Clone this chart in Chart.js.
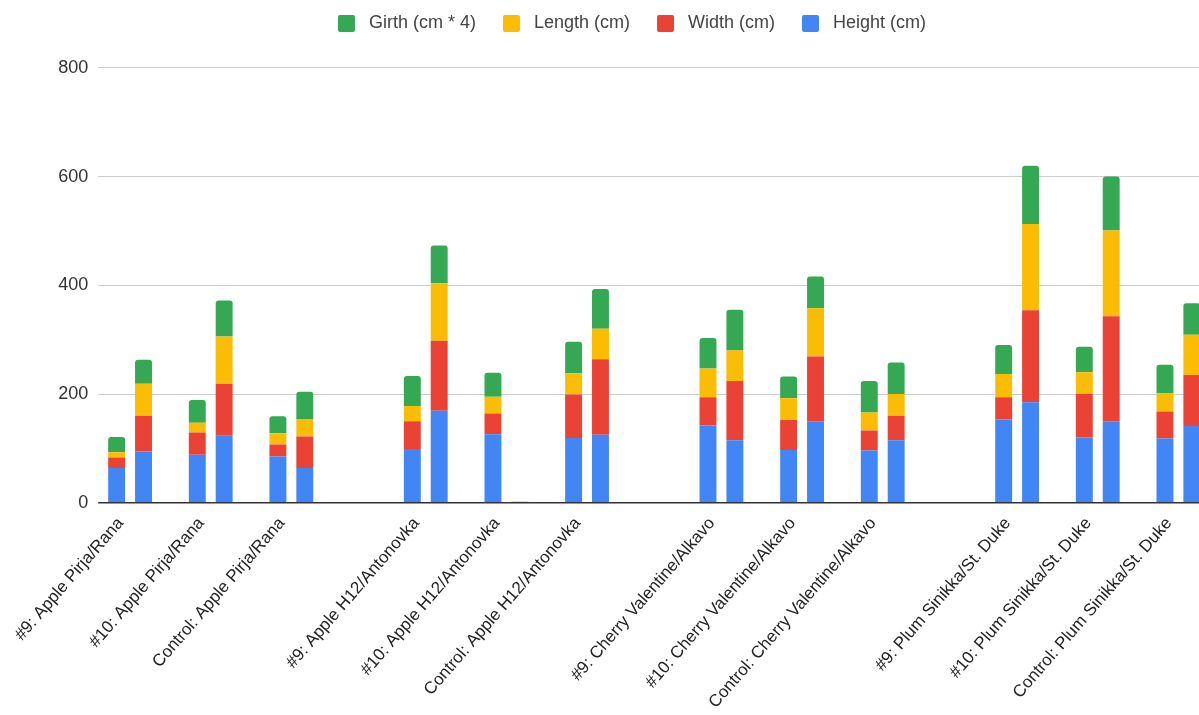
<!DOCTYPE html>
<html>
<head>
<meta charset="utf-8">
<script src="https://cdn.jsdelivr.net/npm/chart.js@4"></script>
<style>
  html, body { margin: 0; padding: 0; background: #fff; overflow: hidden; }
  #grafico { display: block; }
</style>
</head>
<body>
<canvas id="grafico" width="1264" height="715"></canvas>
<script>
// categorias (cada uma tem duas barras: medição 1 e medição 2)
const categorias = [
  "#9: Apple Pirja/Rana",
  "#10: Apple Pirja/Rana",
  "Control: Apple Pirja/Rana",
  "#9: Apple H12/Antonovka",
  "#10: Apple H12/Antonovka",
  "Control: Apple H12/Antonovka",
  "#9: Cherry Valentine/Alkavo",
  "#10: Cherry Valentine/Alkavo",
  "Control: Cherry Valentine/Alkavo",
  "#9: Plum Sinikka/St. Duke",
  "#10: Plum Sinikka/St. Duke",
  "Control: Plum Sinikka/St. Duke",
];

const alturaM1 = [64, 88, 85, 99, 126, 119, 142, 97, 96, 153, 120, 118];
const alturaM2 = [94, 123, 64, 169, 0, 125, 115, 150, 115, 185, 150, 141];
const larguraM1 = [19, 41, 22, 51, 38, 80, 52, 55, 37, 41, 80, 50];
const larguraM2 = [66, 96, 58, 129, 0, 139, 109, 119, 45, 169, 193, 94];
const comprimentoM1 = [10, 18, 21, 28, 31, 39, 53, 40, 33, 43, 40, 33];
const comprimentoM2 = [59, 87, 32, 106, 2, 56, 56, 89, 40, 159, 158, 74];
const circunferenciaM1 = [28, 42, 31, 55, 44, 58, 56, 40, 58, 53, 47, 53];
const circunferenciaM2 = [44, 66, 50, 69, 0, 73, 75, 58, 58, 107, 99, 58];

const ticksY = [0, 200, 400, 600, 800];

// espaços vazios depois de cada categoria (3 entre grupos de fruta)
function vaziosDepois(i) {
  if (i === categorias.length - 1) return 2;
  return (i % 3 === 2) ? 3 : 1;
}

// monta as posições: duas barras por categoria + espaços vazios
const rotulos = [];
const posicoes = [];
categorias.forEach((nome, i) => {
  rotulos.push(nome); posicoes.push([i, 0]);
  rotulos.push(""); posicoes.push([i, 1]);
  for (let k = 0; k < vaziosDepois(i); k++) { rotulos.push(""); posicoes.push(null); }
});

function serie(m1, m2) {
  return posicoes.map(p => p === null ? null : (p[1] === 0 ? m1[p[0]] : m2[p[0]]));
}

const cores = {
  altura: "#4285F4",
  largura: "#EA4335",
  comprimento: "#FBBC04",
  circunferencia: "#34A853",
};

const espacoLegenda = {
  id: "espacoLegenda",
  beforeInit(chart) {
    const fitOriginal = chart.legend.fit;
    chart.legend.fit = function () {
      fitOriginal.call(this);
      this.height = 80.4;
    };
  }
};

const fonte = "'Liberation Sans', Arial, sans-serif";

new Chart(document.getElementById("grafico"), {
  type: "bar",
  data: {
    labels: rotulos,
    datasets: [
      { label: "Height (cm)", data: serie(alturaM1, alturaM2), backgroundColor: cores.altura },
      { label: "Width (cm)", data: serie(larguraM1, larguraM2), backgroundColor: cores.largura },
      { label: "Length (cm)", data: serie(comprimentoM1, comprimentoM2), backgroundColor: cores.comprimento },
      {
        label: "Girth (cm * 4)",
        data: serie(circunferenciaM1, circunferenciaM2),
        backgroundColor: cores.circunferencia,
        borderRadius: { topLeft: 3, topRight: 3, bottomLeft: 0, bottomRight: 0 },
        borderSkipped: false,
      },
    ]
  },
  plugins: [espacoLegenda],
  options: {
    responsive: false,
    animation: false,
    datasets: { bar: { categoryPercentage: 1, barPercentage: 0.63 } },
    layout: { padding: { top: -12.5, left: 0, right: 0, bottom: 0 } },
    plugins: {
      tooltip: { enabled: false },
      legend: {
        position: "top",
        reverse: true,
        labels: {
          font: { family: fonte, size: 18 },
          color: "#444",
          boxWidth: 17,
          boxHeight: 17,
          padding: 27,
          useBorderRadius: true,
          borderRadius: 2,
          generateLabels(chart) {
            const itens = Chart.defaults.plugins.legend.labels.generateLabels(chart);
            return itens.map(item => ({ ...item, text: " " + item.text }));
          }
        }
      }
    },
    scales: {
      x: {
        stacked: true,
        grid: { display: false },
        border: { display: false },
        ticks: {
          autoSkip: false,
          maxRotation: 49,
          minRotation: 49,
          labelOffset: 4,
          font: { family: fonte, size: 17 },
          color: "#222",
        },
        afterFit(scale) { scale.height = 212.3; }
      },
      y: {
        stacked: true,
        min: 0,
        max: 800,
        afterBuildTicks(scale) { scale.ticks = ticksY.map(v => ({ value: v })); },
        grid: {
          color: ctx => ctx.tick && ctx.tick.value === 0 ? "#333" : "#ccc",
          lineWidth: ctx => ctx.tick && ctx.tick.value === 0 ? 1.5 : 1,
          drawTicks: true,
          tickLength: 5,
        },
        border: { display: false },
        ticks: {
          padding: 10,
          font: { family: fonte, size: 18 },
          color: "#333",
        },
        afterFit(scale) { scale.width = 103.2; }
      }
    }
  }
});
</script>
</body>
</html>
